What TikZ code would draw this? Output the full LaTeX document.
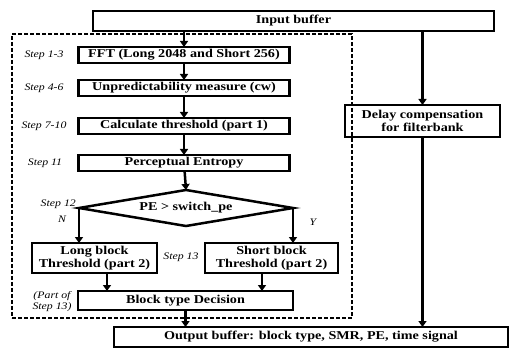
\documentclass[tikz,border=0pt]{standalone}
\usepackage{fontspec}
\setmainfont{Liberation Serif}
\newfontfamily\boxfont[FakeStretch=1.18]{Liberation Serif}
\usetikzlibrary{shapes.geometric,arrows.meta,calc}
\begin{document}
\begin{tikzpicture}[x=1pt,y=-1pt,
 box/.style={draw,line width=2.5pt,inner sep=0pt,outer sep=0pt,font=\boxfont\bfseries\fontsize{12}{13}\selectfont,align=center},
 lbl/.style={font=\boxfont\itshape\fontsize{10}{11}\selectfont,inner sep=0pt,align=center},
 arr/.style={line width=2.5pt,-{Triangle[length=6pt,width=8pt]}},
 dashbox/.style={draw,line width=1.3pt,dash pattern=on 4pt off 2pt}]
\useasboundingbox (0,0) rectangle (510,352);
\fill[white] (0,0) rectangle (510,352);

\node[box,minimum width=401,minimum height=20] (input) at (293.5,21) {Input buffer};
\node[box,minimum width=211,minimum height=16] (fft) at (184,55) {FFT (Long 2048 and Short 256)};
\node[box,minimum width=211,minimum height=16] (unp) at (184,88) {Unpredictability measure (cw)};
\node[box,minimum width=211,minimum height=16] (calc) at (184,126) {Calculate threshold (part 1)};
\node[box,minimum width=211,minimum height=16] (pe) at (184,163) {Perceptual Entropy};
\node[box,diamond,minimum width=214,minimum height=36,aspect=6] (dia) at (186,208) {PE > switch\_pe};
\node[box,minimum width=125,minimum height=30] (long) at (94.5,258) {Long block\\Threshold (part 2)};
\node[box,minimum width=133,minimum height=30] (short) at (271.5,258) {Short block\\Threshold (part 2)};
\node[box,minimum width=215,minimum height=19] (blk) at (185.5,300.5) {Block type Decision};
\node[box,minimum width=394,minimum height=20] (out) at (311,337) {Output buffer: block type, SMR, PE, time signal};
\node[box,minimum width=155,minimum height=32] (delay) at (422.5,121) {Delay compensation\\for filterbank};

\node[dashbox,minimum width=340,minimum height=284,inner sep=0pt] (dash) at (182,176) {};

\node[lbl] (s1) at (44,55) {Step 1-3};
\node[lbl] (s2) at (44,88) {Step 4-6};
\node[lbl] (s3) at (44,126) {Step 7-10};
\node[lbl] (s4) at (45,163) {Step 11};
\node[lbl,anchor=east] (s5) at (76,204) {Step 12};
\node[lbl] (nn) at (62,219) {N};
\node[lbl] (yy) at (313,222) {Y};
\node[lbl] (s6) at (181,257) {Step 13};
\node[lbl] (s7) at (52,302) {(Part of\\Step 13)};

\coordinate (la) at (107,0);
\coordinate (sa) at (262,0);

\draw[arr] (input.south -| fft.north) -- (fft.north);
\draw[arr] (fft) -- (unp);
\draw[arr] (unp) -- (calc);
\draw[arr] (calc) -- (pe);
\draw[arr] (pe) -- (dia.north);
\draw[arr] (dia.west) -- (dia.west |- long.north);
\draw[arr] (dia.east) -- (dia.east |- short.north);
\draw[arr] (long.south -| la) -- (blk.north -| la);
\draw[arr] (short.south -| sa) -- (blk.north -| sa);
\draw[arr] (blk.south) -- (blk.south |- out.north);
\draw[arr] (input.south -| delay.north) -- (delay.north);
\draw[arr] (delay.south) -- (delay.south |- out.north);
\end{tikzpicture}
\end{document}
